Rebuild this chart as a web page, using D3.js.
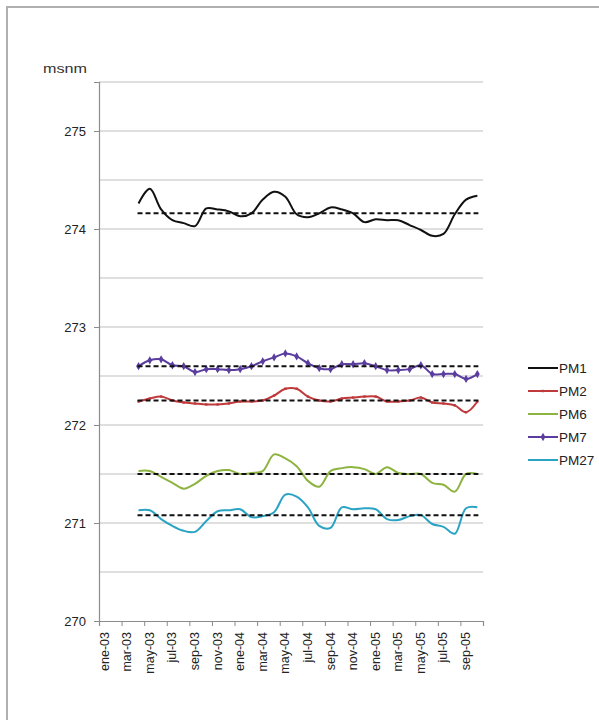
<!DOCTYPE html>
<html>
<head>
<meta charset="utf-8">
<script src="https://cdn.jsdelivr.net/npm/d3@7"></script>
<style>
  html, body { margin: 0; padding: 0; background: #fff; }
  svg { display: block; }
</style>
</head>
<body>
<svg id="chart" width="599" height="720"></svg>
<script>
// ---- data ----
const tickLabels = ["ene-03","mar-03","may-03","jul-03","sep-03","nov-03",
  "ene-04","mar-04","may-04","jul-04","sep-04","nov-04",
  "ene-05","mar-05","may-05","jul-05","sep-05"];
// monthly readings from abr-03 (month index 3) to oct-05 (month index 33)
const firstMonth = 3;
const seriesNames = ["PM1","PM2","PM6","PM7","PM27"];
const pm1 = [274.26,274.41,274.20,274.09,274.06,274.03,274.21,274.20,274.18,274.13,274.16,
  274.30,274.38,274.33,274.15,274.12,274.16,274.22,274.20,274.16,274.07,274.10,274.09,
  274.09,274.04,273.99,273.93,273.95,274.15,274.30,274.34];
const pm2 = [272.24,272.27,272.29,272.25,272.23,272.22,272.21,272.21,272.22,272.24,272.24,
  272.25,272.30,272.37,272.37,272.29,272.25,272.24,272.27,272.28,272.29,272.29,272.24,
  272.24,272.25,272.28,272.23,272.22,272.20,272.13,272.24];
const pm6 = [271.53,271.53,271.47,271.41,271.35,271.40,271.48,271.53,271.54,271.50,271.51,
  271.53,271.70,271.66,271.58,271.43,271.37,271.53,271.56,271.57,271.55,271.50,271.57,
  271.51,271.50,271.50,271.41,271.39,271.32,271.50,271.50];
const pm7 = [272.60,272.66,272.67,272.61,272.60,272.54,272.57,272.57,272.56,272.57,272.60,
  272.65,272.69,272.73,272.70,272.63,272.58,272.57,272.62,272.62,272.63,272.60,272.56,
  272.56,272.57,272.61,272.52,272.52,272.52,272.47,272.52];
const pm27 = [271.13,271.13,271.04,270.97,270.92,270.91,271.02,271.12,271.13,271.14,271.06,
  271.07,271.11,271.29,271.27,271.16,270.97,270.95,271.16,271.14,271.15,271.14,271.04,
  271.03,271.07,271.08,270.99,270.96,270.89,271.15,271.16];
const meanLevels = [274.16,272.25,271.50,272.60,271.08];
const yTicks = [270,271,272,273,274,275];
const gridValues = [270.5,271,271.5,272,272.5,273,273.5,274,274.5,275,275.5];

const seriesValues = [pm1, pm2, pm6, pm7, pm27];
const seriesColors = ["#111111","#c0393b","#8db340","#5a3d9e","#2aa3c4"];

const FONT = "Liberation Sans, Arial, sans-serif";

// ---- layout ----
const svg = d3.select("#chart");
const x = d3.scaleLinear().domain([0, 34]).range([99, 483]);
const y = d3.scaleLinear().domain([270, 275.5]).range([621, 82]);

// outer frame (top and left edges visible)
svg.append("path")
  .attr("d", "M7,720 V7 H599")
  .attr("fill", "none").attr("stroke", "#b0b0b0").attr("stroke-width", 2);

// gridlines
svg.append("g").selectAll("line").data(gridValues).join("line")
  .attr("x1", x(0)).attr("x2", x(34))
  .attr("y1", d => y(d)).attr("y2", d => y(d))
  .attr("stroke", "#d4d4d4").attr("stroke-width", 1.5);

// y axis
const yAxis = d3.axisLeft(y).tickValues(yTicks).tickSize(5).tickPadding(8).tickFormat(d3.format("d"));
const gy = svg.append("g").attr("transform", `translate(${x(0)},0)`).call(yAxis);
gy.select(".domain").attr("stroke", "#8c8c8c").attr("stroke-width", 1.2);
gy.selectAll(".tick line").attr("stroke", "#8c8c8c");
gy.selectAll(".tick text").attr("font-family", FONT)
  .attr("font-size", 13).attr("fill", "#222");

// x axis
const xTickVals = d3.range(0, 35, 2);
const xAxis = d3.axisBottom(x).tickValues(xTickVals).tickSize(5).tickFormat("");
const gx = svg.append("g").attr("transform", `translate(0,${y(270)})`).call(xAxis);
gx.select(".domain").attr("stroke", "#8c8c8c").attr("stroke-width", 1.2);
gx.selectAll(".tick line").attr("stroke", "#8c8c8c");

svg.append("g").selectAll("text").data(tickLabels).join("text")
  .attr("transform", (d, i) => `translate(${x(i * 2 + 0.5) + 4},${y(270) + 11}) rotate(-90)`)
  .attr("text-anchor", "end")
  .attr("font-family", FONT)
  .attr("font-size", 12.5).attr("fill", "#222")
  .text(d => d);

// unit label
svg.append("text").attr("x", 43).attr("y", 73)
  .attr("font-family", FONT)
  .attr("font-size", 13).attr("fill", "#333")
  .attr("textLength", 44).attr("lengthAdjust", "spacingAndGlyphs")
  .text("msnm");

// series lines
const line = d3.line()
  .x((d, i) => x(firstMonth + i + 0.5))
  .y(d => y(d))
  .curve(d3.curveCatmullRom.alpha(0.5));

seriesValues.forEach((vals, k) => {
  svg.append("path").datum(vals)
    .attr("d", line)
    .attr("fill", "none")
    .attr("stroke", seriesColors[k])
    .attr("stroke-width", 2);
});

// PM2 small markers
svg.append("g").selectAll("rect").data(pm2).join("rect")
  .attr("x", (d, i) => x(firstMonth + i + 0.5) - 1.2)
  .attr("y", d => y(d) - 1.2)
  .attr("width", 2.4).attr("height", 2.4)
  .attr("fill", seriesColors[1]);

// PM7 diamond markers
const diamond = d3.symbol().type(d3.symbolDiamond).size(20);
svg.append("g").selectAll("path").data(pm7).join("path")
  .attr("d", diamond)
  .attr("transform", (d, i) => `translate(${x(firstMonth + i + 0.5)},${y(d)})`)
  .attr("fill", seriesColors[3]);

// mean dashed lines
const lastMonth = firstMonth + pm1.length - 1;
svg.append("g").selectAll("line").data(meanLevels).join("line")
  .attr("x1", x(firstMonth + 0.5) - 1).attr("x2", x(lastMonth + 0.5) + 1)
  .attr("y1", d => y(d)).attr("y2", d => y(d))
  .attr("stroke", "#111").attr("stroke-width", 2)
  .attr("stroke-dasharray", "5,3");

// legend
const legendY = [368, 391, 414, 437, 460];
const lg = svg.append("g");
seriesNames.forEach((name, k) => {
  lg.append("line").attr("x1", 528).attr("x2", 558)
    .attr("y1", legendY[k]).attr("y2", legendY[k])
    .attr("stroke", seriesColors[k]).attr("stroke-width", 2);
  if (k === 3) {
    lg.append("path").attr("d", diamond)
      .attr("transform", `translate(543,${legendY[k]})`)
      .attr("fill", seriesColors[k]);
  }
  if (k === 1) {
    lg.append("rect").attr("x", 541.8).attr("y", legendY[k] - 1.2)
      .attr("width", 2.4).attr("height", 2.4).attr("fill", seriesColors[k]);
  }
  lg.append("text").attr("x", 559).attr("y", legendY[k] + 4.5)
    .attr("font-family", FONT)
    .attr("font-size", 13.5).attr("fill", "#222")
    .text(name);
});
</script>
</body>
</html>
